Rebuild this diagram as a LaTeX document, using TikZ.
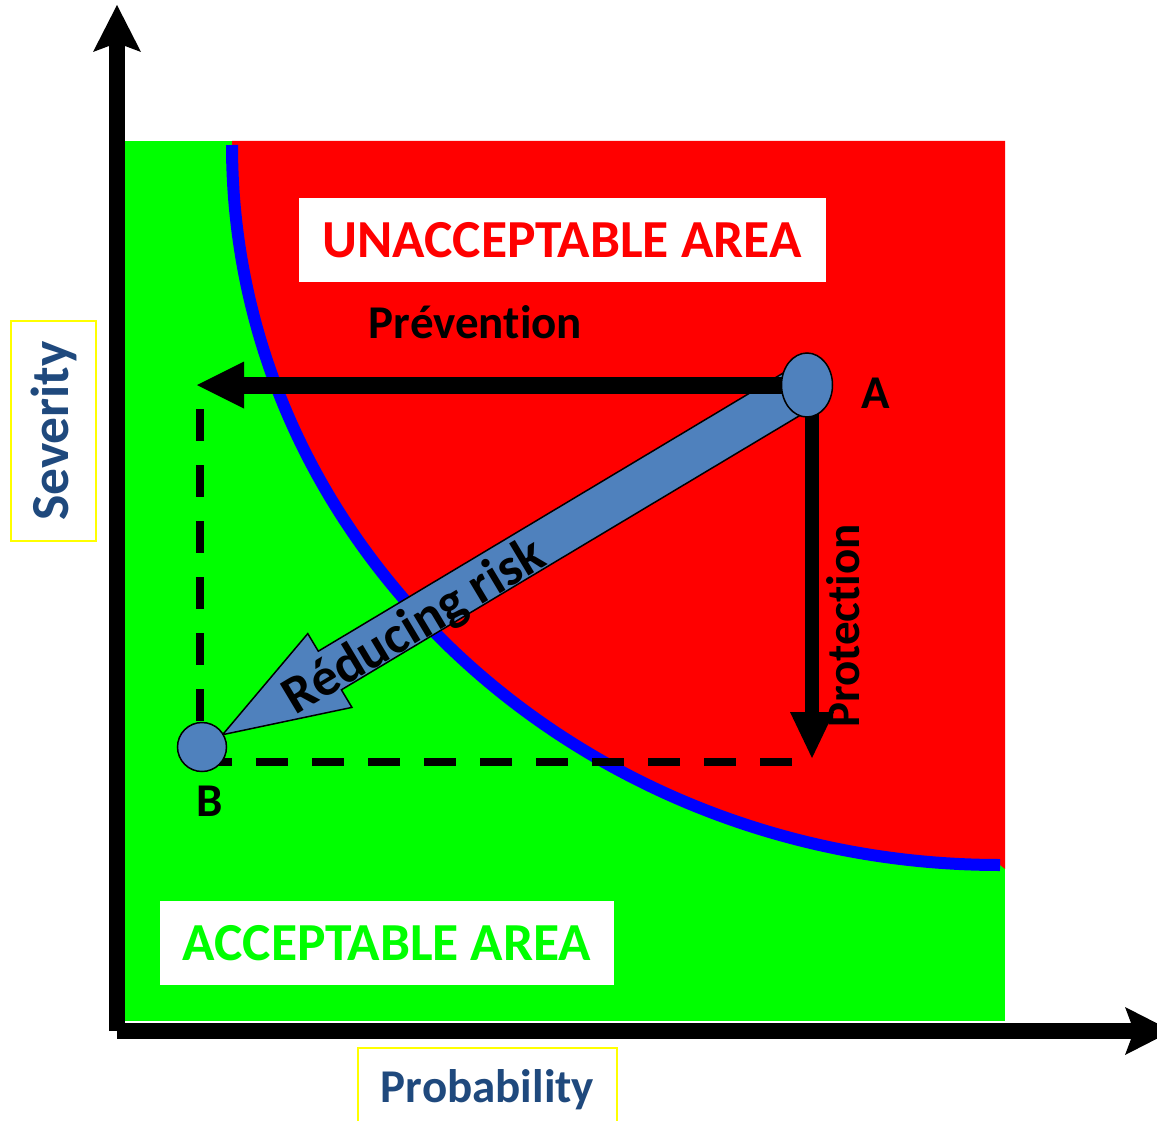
\documentclass[tikz,border=0pt]{standalone}
\usepackage{fontspec}
\setmainfont{Carlito}[Ligatures=NoCommon]
\usetikzlibrary{arrows.meta,calc,shapes.geometric}
\definecolor{bgreen}{RGB}{0,255,0}
\definecolor{bred}{RGB}{255,0,0}
\definecolor{bblue}{RGB}{0,0,255}
\definecolor{steel}{RGB}{79,129,189}
\definecolor{navy}{RGB}{31,73,125}
\definecolor{byellow}{RGB}{255,255,0}
\begin{document}
\begin{tikzpicture}[x=1pt,y=-1pt,
  big/.style={font=\fontsize{53.5}{62}\selectfont\bfseries},
  mid/.style={font=\fontsize{47}{56}\selectfont\bfseries},
  whitebox/.style={fill=white,inner sep=0pt,minimum width=#1,minimum height=84},
  axisbox/.style={draw=byellow,line width=2,fill=white,inner sep=0pt,text=navy},
  axis/.style={line width=16,-{Stealth[length=47pt,width=48pt,inset=9pt,line width=0pt]}},
  blackarrow/.style={line width=#1,-{Triangle[length=47pt,width=47pt,line width=0pt]}},
  dotnode/.style={fill=steel,draw=black,line width=1.5,inner sep=0pt},
  guide/.style={line width=8,dash pattern=on 32pt off 24pt}]
\useasboundingbox (0,0) rectangle (1157,1121);
% regions
\fill[bgreen] (125,141) rectangle (1005,1021);
\fill[bred] (232,141) -- (232,145) arc[start angle=180,end angle=90,x radius=768,y radius=720] -- (1005,869) -- (1005,141) -- cycle;
\draw[bblue,line width=12] (232,145) arc[start angle=180,end angle=90,x radius=768,y radius=720];
% axes
\coordinate (O) at (117,1031);
\coordinate (ytip) at (117,5);
\coordinate (xtip) at (1172,1031);
\draw[axis] (O) -- (ytip);
\draw[axis] (O) -- (xtip);
% area boxes
\node[whitebox=527,big,text=bred] (unacc) at (562,240) {UNACCEPTABLE AREA};
\node[whitebox=454,big,text=bgreen] (acc) at (387,943) {ACCEPTABLE AREA};
% axis labels
\node[axisbox,minimum width=220,minimum height=85,rotate=90,big] (sev) at (53.5,431) {Severity};
\node[axisbox,minimum width=259,minimum height=84,mid] (prob) at (487.5,1090) {Probability};
% points
\coordinate (Ac) at (807,385);
\coordinate (Bc) at (202,747);
% dashed guides
\draw[guide] (200,409) -- (200,766);
\draw[guide] (200,762) -- (812,762);
% reducing risk block arrow
\coordinate (T) at ($(Bc)!24pt!(Ac)$);
\coordinate (H) at ($(T)!125pt!(Ac)$);
\fill[steel,draw=black,line width=1.5,line join=miter]
  ($(Ac)!22.5pt!90:(T)$) -- ($(H)!22.5pt!-90:(Ac)$) -- ($(H)!43pt!-90:(Ac)$) -- (T)
  -- ($(H)!43pt!90:(Ac)$) -- ($(H)!22.5pt!90:(Ac)$) -- ($(Ac)!22.5pt!-90:(T)$) -- cycle;
% prevention and protection
\coordinate (prevtip) at (197,385);
\coordinate (protip) at (812,758);
\draw[blackarrow=17] (Ac) -- (prevtip);
\draw[line width=14,-{Triangle[length=46pt,width=44pt,line width=0pt]}] (protip |- Ac) -- (protip);
% nodes A and B
\node[dotnode,ellipse,minimum width=51,minimum height=64] (A) at (Ac) {};
\node[dotnode,circle,minimum size=49] (B) at (Bc) {};
% labels
\node[mid,anchor=base] (lA) at (876,408) {A};
\node[mid,anchor=base] (lB) at (210,816) {B};
\node[mid,anchor=base] (prev) at (475.5,338) {Prévention};
\node[mid,anchor=base,rotate=90] (prot) at (859,626) {Protection};
\node[big,rotate=30.9] (rr) at (415,628) {Réducing risk};
\end{tikzpicture}
\end{document}
